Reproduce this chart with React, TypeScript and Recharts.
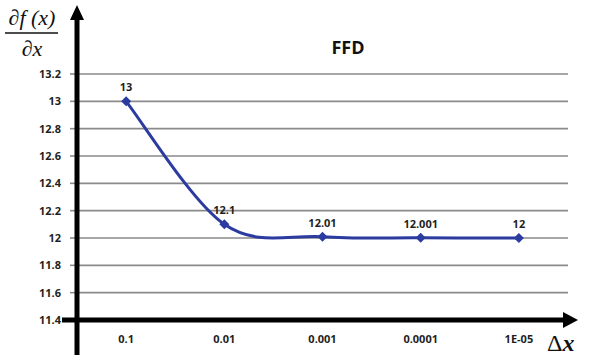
import React from 'react';
import { LineChart, Line, XAxis, YAxis, CartesianGrid, LabelList } from 'recharts';

// step sizes on the x axis and the forward-difference estimate at each
const stepSizes = ['0.1', '0.01', '0.001', '0.0001', '1E-05'];
const ffdValues = [13, 12.1, 12.01, 12.001, 12];
const ffdLabels = ['13', '12.1', '12.01', '12.001', '12'];
const yTicks = [11.4, 11.6, 11.8, 12, 12.2, 12.4, 12.6, 12.8, 13, 13.2];

const chartData = stepSizes.map((step, i) => ({
    step,
    ffd: ffdValues[i],
    label: ffdLabels[i],
}));

const W = 593;
const H = 359;
const PLOT_LEFT = 77;
const PLOT_TOP = 74;
const PLOT_RIGHT = 568;
const PLOT_BOTTOM = 320;

const LINE_BLUE = '#2b3b9f';
const TICK_FONT = '"Open Sans", "Liberation Sans", sans-serif';

// Excel-style smoothed line (Catmull-Rom through every point)
function excelSmooth(context: any) {
    let pts: number[][] = [];
    return {
        areaStart() {},
        areaEnd() {},
        lineStart() { pts = []; },
        point(x: number, y: number) { pts.push([+x, +y]); },
        lineEnd() {
            if (!pts.length) return;
            context.moveTo(pts[0][0], pts[0][1]);
            for (let i = 0; i < pts.length - 1; i++) {
                const p0 = pts[i - 1] || pts[i];
                const p1 = pts[i];
                const p2 = pts[i + 1];
                const p3 = pts[i + 2] || p2;
                context.bezierCurveTo(
                    p1[0] + (p2[0] - p0[0]) / 6, p1[1] + (p2[1] - p0[1]) / 6,
                    p2[0] - (p3[0] - p1[0]) / 6, p2[1] - (p3[1] - p1[1]) / 6,
                    p2[0], p2[1]
                );
            }
        },
    };
}

const Diamond = (props: any) => {
    const { cx, cy, index } = props;
    if (cx == null || cy == null) return null;
    const s = 5;
    return (
        <path
            key={`d-${index}`}
            d={`M${cx},${cy - s}L${cx + s},${cy}L${cx},${cy + s}L${cx - s},${cy}Z`}
            fill={LINE_BLUE}
        />
    );
};

const fmtTick = (v: number) => String(Math.round(v * 10) / 10);

export default function App() {
    return (
        <div style={{ position: 'absolute', left: 0, top: 0, width: W, height: H, background: '#fff' }}>
            <LineChart
                width={W}
                height={H}
                data={chartData}
                margin={{ top: PLOT_TOP, right: W - PLOT_RIGHT, left: 0, bottom: 0 }}
            >
                <CartesianGrid vertical={false} stroke="#8a8a8a" strokeWidth={1.6} />
                <XAxis
                    dataKey="step"
                    scale="band"
                    height={H - PLOT_BOTTOM}
                    axisLine={false}
                    tickLine={false}
                    tickSize={6}
                    tickMargin={9}
                    tick={{ fontFamily: TICK_FONT, fontSize: 11, fontWeight: 700, fill: '#1f1f1f' }}
                />
                <YAxis
                    width={PLOT_LEFT}
                    domain={[11.4, 13.2]}
                    ticks={yTicks}
                    interval={0}
                    tickFormatter={fmtTick}
                    axisLine={false}
                    tickLine={{ stroke: '#8a8a8a', strokeWidth: 1.6 }}
                    tickSize={7}
                    tickMargin={9}
                    tick={{ fontFamily: TICK_FONT, fontSize: 11, fontWeight: 700, fill: '#1f1f1f' }}
                />
                <Line
                    dataKey="ffd"
                    type={excelSmooth as any}
                    stroke={LINE_BLUE}
                    strokeWidth={3}
                    dot={<Diamond />}
                    activeDot={false}
                    isAnimationActive={false}
                >
                    <LabelList
                        dataKey="label"
                        position="top"
                        offset={10}
                        style={{ fontFamily: TICK_FONT, fontSize: 11, fontWeight: 700, fill: '#1f1f1f' }}
                    />
                </Line>
            </LineChart>

            {/* axes with arrow heads, title and axis names */}
            <svg
                width={W}
                height={H}
                style={{ position: 'absolute', left: 0, top: 0, pointerEvents: 'none' }}
            >
                <line x1={PLOT_LEFT} y1={355} x2={PLOT_LEFT} y2={18} stroke="#000" strokeWidth={5} />
                <path d={`M${PLOT_LEFT},5L${PLOT_LEFT + 7},20L${PLOT_LEFT - 7},20Z`} fill="#000" />
                <line x1={62} y1={PLOT_BOTTOM} x2={565} y2={PLOT_BOTTOM} stroke="#000" strokeWidth={5} />
                <path d={`M578,${PLOT_BOTTOM}L563,${PLOT_BOTTOM - 8}L563,${PLOT_BOTTOM + 8}Z`} fill="#000" />

                <text x={348} y={54} textAnchor="middle" fontFamily={TICK_FONT} fontSize={18} fontWeight={700} fill="#111">
                    FFD
                </text>

                <text x={32} y={25} textAnchor="middle" fontFamily='"Liberation Serif", serif' fontSize={22} fontStyle="italic" fill="#111">
                    ∂f (x)
                </text>
                <line x1={5} y1={33} x2={58} y2={33} stroke="#111" strokeWidth={1.5} />
                <text x={32} y={56} textAnchor="middle" fontFamily='"Liberation Serif", serif' fontSize={22} fontStyle="italic" fill="#111">
                    ∂x
                </text>

                <text x={547} y={351} fontFamily='"Liberation Serif", serif' fontSize={24} fill="#111">
                    Δ<tspan fontStyle="italic" fontWeight={700}>x</tspan>
                </text>
            </svg>
        </div>
    );
}
